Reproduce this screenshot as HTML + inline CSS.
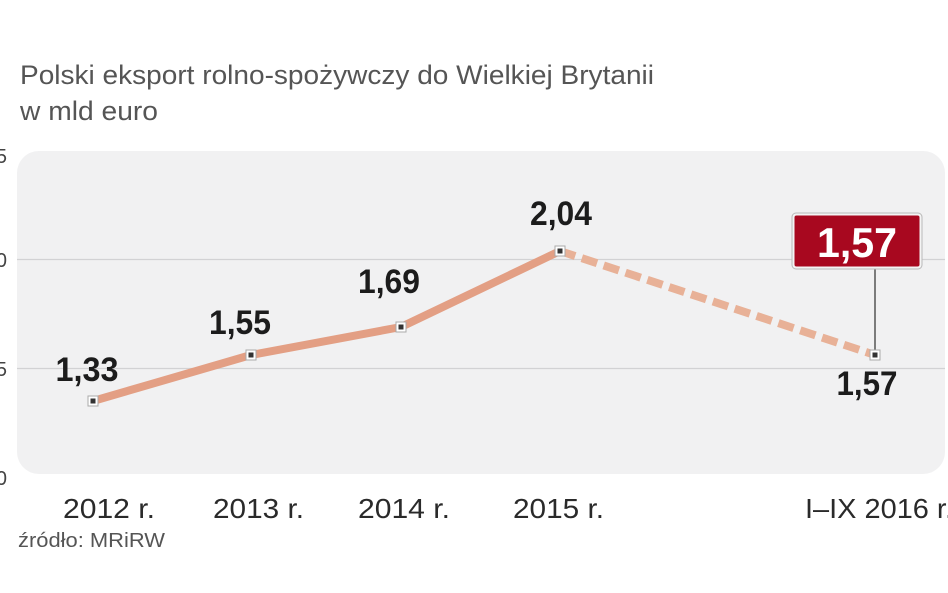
<!DOCTYPE html>
<html><head><meta charset="utf-8"><style>
html,body{margin:0;padding:0;background:#fff;}
svg{display:block;}
</style></head><body>
<svg width="948" height="593" viewBox="0 0 948 593" xmlns="http://www.w3.org/2000/svg">
<rect x="0" y="0" width="948" height="593" fill="#ffffff"/>
<text x="20" y="84" font-family="Liberation Sans, sans-serif" font-size="27" fill="#555555" textLength="634" lengthAdjust="spacingAndGlyphs">Polski eksport rolno-spożywczy do Wielkiej Brytanii</text>
<text x="20" y="120" font-family="Liberation Sans, sans-serif" font-size="27" fill="#555555" textLength="138" lengthAdjust="spacingAndGlyphs">w mld euro</text>
<rect x="17" y="151" width="928" height="323" rx="22" ry="22" fill="#f1f1f2"/>
<line x1="17" y1="259.5" x2="945" y2="259.5" stroke="#d2d2d4" stroke-width="1.2"/>
<line x1="17" y1="368.5" x2="945" y2="368.5" stroke="#d2d2d4" stroke-width="1.2"/>
<g font-family="Liberation Sans, sans-serif" font-size="20" fill="#444" text-anchor="end">
<text x="7" y="163">2,5</text>
<text x="7" y="267">2,0</text>
<text x="7" y="376">1,5</text>
<text x="7" y="485">1,0</text>
</g>
<polyline points="93,401 251,355 401,327 560,251" fill="none" stroke="#e39f84" stroke-width="8" stroke-linejoin="round"/>
<line x1="560" y1="251" x2="875" y2="355" stroke="#e8b197" stroke-width="8" stroke-dasharray="16 7"/>
<line x1="875" y1="268" x2="875" y2="352" stroke="#555" stroke-width="1.5"/>
<g>
<rect x="88" y="396" width="10" height="10" fill="#fff" stroke="#aaa" stroke-width="1"/><rect x="90.5" y="398.5" width="5" height="5" fill="#333"/>
<rect x="246" y="350" width="10" height="10" fill="#fff" stroke="#aaa" stroke-width="1"/><rect x="248.5" y="352.5" width="5" height="5" fill="#333"/>
<rect x="396" y="322" width="10" height="10" fill="#fff" stroke="#aaa" stroke-width="1"/><rect x="398.5" y="324.5" width="5" height="5" fill="#333"/>
<rect x="555" y="246" width="10" height="10" fill="#fff" stroke="#aaa" stroke-width="1"/><rect x="557.5" y="248.5" width="5" height="5" fill="#333"/>
<rect x="870" y="350" width="10" height="10" fill="#fff" stroke="#aaa" stroke-width="1"/><rect x="872.5" y="352.5" width="5" height="5" fill="#333"/>
</g>
<g font-family="Liberation Sans, sans-serif" font-size="34" font-weight="bold" fill="#1c1c1c" text-anchor="middle">
<text x="87" y="381" textLength="63" lengthAdjust="spacingAndGlyphs">1,33</text>
<text x="240" y="334" textLength="62" lengthAdjust="spacingAndGlyphs">1,55</text>
<text x="389" y="293" textLength="62" lengthAdjust="spacingAndGlyphs">1,69</text>
<text x="561" y="225" textLength="62" lengthAdjust="spacingAndGlyphs">2,04</text>
<text x="867" y="395" textLength="61" lengthAdjust="spacingAndGlyphs">1,57</text>
</g>
<rect x="793.5" y="214.5" width="127" height="53" rx="3" fill="#a8081f" stroke="#f4f4f4" stroke-width="2"/>
<rect x="792" y="213" width="130" height="56" rx="4" fill="none" stroke="#b9b9b9" stroke-width="1"/>
<text x="857" y="257" font-family="Liberation Sans, sans-serif" font-size="42" font-weight="bold" fill="#ffffff" text-anchor="middle" textLength="80" lengthAdjust="spacingAndGlyphs">1,57</text>
<g font-family="Liberation Sans, sans-serif" font-size="28" fill="#2a2a2a">
<text x="63" y="518" textLength="92" lengthAdjust="spacingAndGlyphs">2012 r.</text>
<text x="213" y="518" textLength="91" lengthAdjust="spacingAndGlyphs">2013 r.</text>
<text x="358" y="518" textLength="92" lengthAdjust="spacingAndGlyphs">2014 r.</text>
<text x="513" y="518" textLength="91" lengthAdjust="spacingAndGlyphs">2015 r.</text>
<text x="805" y="518" textLength="148" lengthAdjust="spacingAndGlyphs">I–IX 2016 r.</text>
</g>
<text x="18" y="547" font-family="Liberation Sans, sans-serif" font-size="20" fill="#555" textLength="147" lengthAdjust="spacingAndGlyphs">źródło: MRiRW</text>
</svg>
</body></html>
